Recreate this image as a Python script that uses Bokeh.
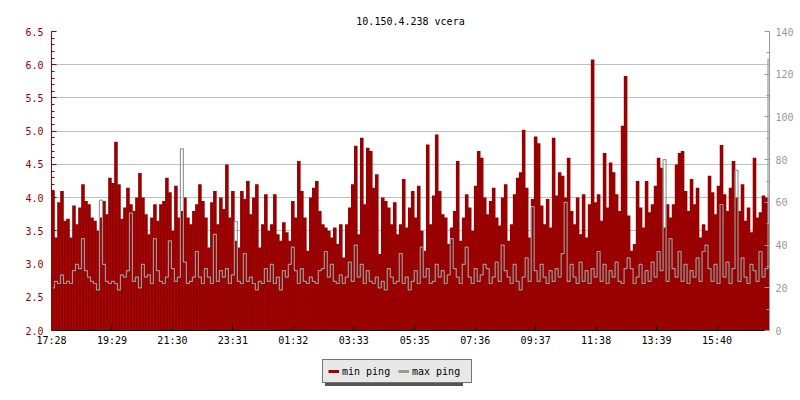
from bokeh.plotting import figure
from bokeh.layouts import column
from bokeh.models import (Range1d, LinearAxis, SingleIntervalTicker, FixedTicker,
                          Legend, LegendItem, ColumnDataSource, NumeralTickFormatter)
from bokeh.embed import file_html
from bokeh.resources import INLINE

FONT = "DejaVu Sans Mono"
RED = "#990000"
GRAY = "#999999"
TITLE = "10.150.4.238 vcera"

SAMPLE_MINUTES = 6

min_ping = [
    4.1, 3.4, 3.93, 4.1, 3.65, 3.68, 3.4, 3.88, 3.6, 3.85,
    4.2, 3.95, 3.9, 3.7, 3.65, 3.5, 3.7, 3.95, 3.75, 4.3,
    4.22, 4.84, 4.2, 3.68, 3.85, 4.15, 3.9, 3.8, 4.0, 4.37,
    4.0, 3.75, 3.45, 3.7, 3.9, 3.65, 3.9, 3.95, 4.3, 4.08,
    3.5, 4.18, 3.7, 3.8, 4.0, 3.7, 3.6, 3.8, 3.9,
    4.2, 3.95, 3.7, 3.25, 3.93, 4.1, 3.6, 4.0, 3.83, 4.5,
    3.7, 4.1, 3.35, 3.25, 4.1, 3.98, 4.25, 3.75, 4.0, 4.2,
    3.25, 3.6, 4.05, 3.5, 3.6, 4.05, 3.45, 3.35, 3.63, 3.48,
    3.35, 3.95, 3.7, 4.55, 4.1, 3.7, 3.2, 4.0, 4.15, 4.25,
    3.8, 3.6, 3.55, 3.5, 3.4, 3.55, 3.3, 3.6,
    3.1, 3.6, 3.85, 4.2, 4.78, 3.45, 4.9, 3.9, 4.75, 4.7,
    4.15, 4.35, 3.15, 4.0, 3.95, 3.85, 3.6, 3.93, 3.45, 3.6,
    4.28, 3.55, 3.85, 4.1, 3.7, 4.18, 3.5, 3.2, 4.8, 3.6,
    4.03, 4.95, 4.1, 3.75, 3.7, 3.3, 3.55, 3.8, 4.55, 3.35,
    3.7, 4.05, 3.85, 3.5, 4.18, 4.7, 4.6, 4.0,
    3.75, 3.95, 4.15, 3.7, 3.58, 4.0, 4.2, 3.35, 3.6, 4.05,
    4.3, 4.38, 5.02, 4.15, 3.4, 3.98, 4.92, 4.82, 3.88, 3.6,
    3.98, 3.55, 4.9, 4.03, 4.38, 4.33, 4.0, 4.6, 3.8, 3.6,
    4.0, 3.45, 4.05, 3.4, 3.9, 6.08, 3.93, 4.05, 3.65, 4.67,
    3.85, 4.53, 4.38, 4.05, 3.8, 5.08, 5.83, 3.73,
    3.2, 3.3, 4.25, 3.85, 3.55, 4.25, 3.78, 3.9, 4.18, 4.6,
    4.45, 3.55, 3.9, 3.7, 3.9, 4.5, 4.67, 4.7, 4.1, 3.8,
    4.28, 3.9, 4.15, 3.4, 3.6, 3.5, 4.33, 4.08, 3.75, 4.18,
    4.79, 4.05, 3.8, 4.15, 4.55, 4.0, 3.8, 4.2, 3.65, 3.85,
    3.48, 4.6, 3.7, 3.78, 4.03, 4.0, 3.6,
]

max_ping = [
    20, 23, 22, 26, 22, 23, 22, 28, 31, 29,
    43, 28, 25, 23, 22, 19, 61, 31, 23, 22,
    23, 22, 19, 26, 25, 28, 55, 23, 25, 20,
    31, 25, 26, 22, 43, 28, 23, 22, 25, 42,
    29, 23, 25, 85, 32, 22, 23, 25, 37,
    25, 22, 29, 25, 22, 45, 23, 28, 25, 29,
    22, 26, 51, 23, 22, 36, 23, 25, 22, 19,
    23, 22, 29, 23, 31, 22, 25, 19, 28, 25,
    31, 39, 28, 22, 29, 23, 22, 25, 23, 22,
    28, 29, 37, 25, 31, 23, 22, 26,
    22, 25, 32, 23, 40, 25, 31, 22, 28, 23,
    22, 25, 20, 23, 19, 29, 25, 22, 23, 36,
    22, 25, 19, 23, 28, 22, 39, 25, 29, 22,
    23, 31, 25, 28, 22, 26, 43, 29, 25, 22,
    31, 39, 25, 22, 29, 23, 26, 31,
    29, 22, 25, 32, 23, 40, 28, 25, 22, 31,
    23, 19, 25, 34, 23, 58, 28, 23, 31, 25,
    22, 28, 23, 29, 25, 36, 60, 23, 31, 25,
    22, 32, 23, 28, 22, 29, 25, 37, 23, 31,
    22, 28, 25, 32, 23, 22, 29, 34,
    29, 22, 25, 31, 22, 28, 23, 32, 25, 37,
    28, 80, 23, 43, 29, 25, 37, 23, 31, 22,
    28, 25, 34, 23, 37, 40, 29, 23, 31, 22,
    59, 25, 32, 22, 29, 75, 23, 34, 25, 22,
    31, 28, 23, 37, 25, 29, 127,
]

tick_minutes = [0, 121, 242, 363, 484, 605, 727, 848, 969, 1090, 1211, 1332]
tick_labels = ["17:28", "19:29", "21:30", "23:31", "01:32", "03:33",
               "05:35", "07:36", "09:37", "11:38", "13:39", "15:40"]
series_labels = ["min ping", "max ping"]

x = [i * SAMPLE_MINUTES + SAMPLE_MINUTES / 2 for i in range(len(min_ping))]
src = ColumnDataSource(dict(x=x, lo=min_ping, hi=max_ping))

p = figure(frame_width=718, frame_height=299, output_backend="svg",
           toolbar_location=None,
           x_range=Range1d(0, 1437), y_range=Range1d(2.0, 6.5),
           min_border_left=51, min_border_right=31, min_border_top=31,
           min_border_bottom=25, title=TITLE)
p.extra_y_ranges = {"max": Range1d(0, 140)}
p.outline_line_color = None
p.background_fill_color = "white"
p.border_fill_color = "white"

p.title.align = "center"
p.title.text_font = FONT
p.title.text_font_size = "10px"
p.title.text_font_style = "normal"
p.title.text_color = "black"
p.title.standoff = 10

p.vbar(x="x", top="lo", bottom=0, width=SAMPLE_MINUTES * 1.2, source=src,
       fill_color=RED, line_color=None)
p.step(x="x", y="hi", mode="center", source=src, y_range_name="max",
       line_color=GRAY, line_width=1.2)

# grid
p.xgrid.visible = False
p.ygrid.grid_line_color = "#c0c0c0"
p.ygrid.grid_line_width = 1

# left axis
yl = p.yaxis[0]
yl.ticker = SingleIntervalTicker(interval=0.5, num_minor_ticks=5)
yl.formatter = NumeralTickFormatter(format="0.0")
yl.axis_line_color = RED
yl.major_tick_line_color = RED
yl.minor_tick_line_color = RED
yl.major_label_text_color = RED
yl.major_tick_in = 5
yl.major_tick_out = 0
yl.minor_tick_in = 3
yl.minor_tick_out = 0
yl.major_label_text_font = FONT
yl.major_label_text_font_size = "10px"
yl.major_label_standoff = 8

# right axis
yr = LinearAxis(y_range_name="max",
                ticker=SingleIntervalTicker(interval=20, num_minor_ticks=2))
yr.axis_line_color = GRAY
yr.major_tick_line_color = GRAY
yr.minor_tick_line_color = GRAY
yr.major_label_text_color = GRAY
yr.major_tick_in = 5
yr.major_tick_out = 0
yr.minor_tick_in = 3
yr.minor_tick_out = 0
yr.major_label_text_font = FONT
yr.major_label_text_font_size = "10px"
yr.major_label_standoff = 6
p.add_layout(yr, "right")

# x axis
xa = p.xaxis[0]
xa.ticker = FixedTicker(ticks=tick_minutes)
xa.major_label_overrides = {t: l for t, l in zip(tick_minutes, tick_labels)}
xa.axis_line_color = "black"
xa.major_tick_line_color = "black"
xa.major_tick_in = 5
xa.major_tick_out = 0
xa.minor_tick_line_color = None
xa.major_label_text_font = FONT
xa.major_label_text_font_size = "10px"
xa.major_label_text_color = "black"
xa.major_label_standoff = 4

# legend strip below the chart; its swatch renderers use the real series but
# lie outside this strip's visible range, so only the legend shows
lg = figure(width=792, height=40, output_backend="svg", toolbar_location=None,
            x_axis_type=None, y_axis_type=None, min_border=0,
            x_range=Range1d(-20, -10), y_range=Range1d(0, 1))
lg.outline_line_color = None
lg.xgrid.visible = False
lg.ygrid.visible = False
leg_min = lg.line(x="x", y="lo", source=src, line_color=RED, line_width=3)
leg_max = lg.line(x="x", y="hi", source=src, line_color=GRAY, line_width=3)
leg_items = [LegendItem(label=series_labels[0], renderers=[leg_min]),
             LegendItem(label=series_labels[1], renderers=[leg_max])]
common = dict(orientation="horizontal", label_text_font=FONT,
              label_text_font_size="10px", label_standoff=3, glyph_width=11,
              glyph_height=12, spacing=2, padding=5, margin=0, label_width=54)
shadow = Legend(items=leg_items, location=(274, 9), border_line_color=None,
                background_fill_color="#555555", background_fill_alpha=1,
                label_text_color="#555555", **common)
legend = Legend(items=leg_items, location=(271, 12),
                border_line_color="black", border_line_width=1,
                background_fill_color="#e8e8e8", background_fill_alpha=1,
                label_text_color="black", **common)
lg.add_layout(shadow)
lg.add_layout(legend)

page = column(p, lg, spacing=0)
open("out.html", "w").write(file_html(page, INLINE))
